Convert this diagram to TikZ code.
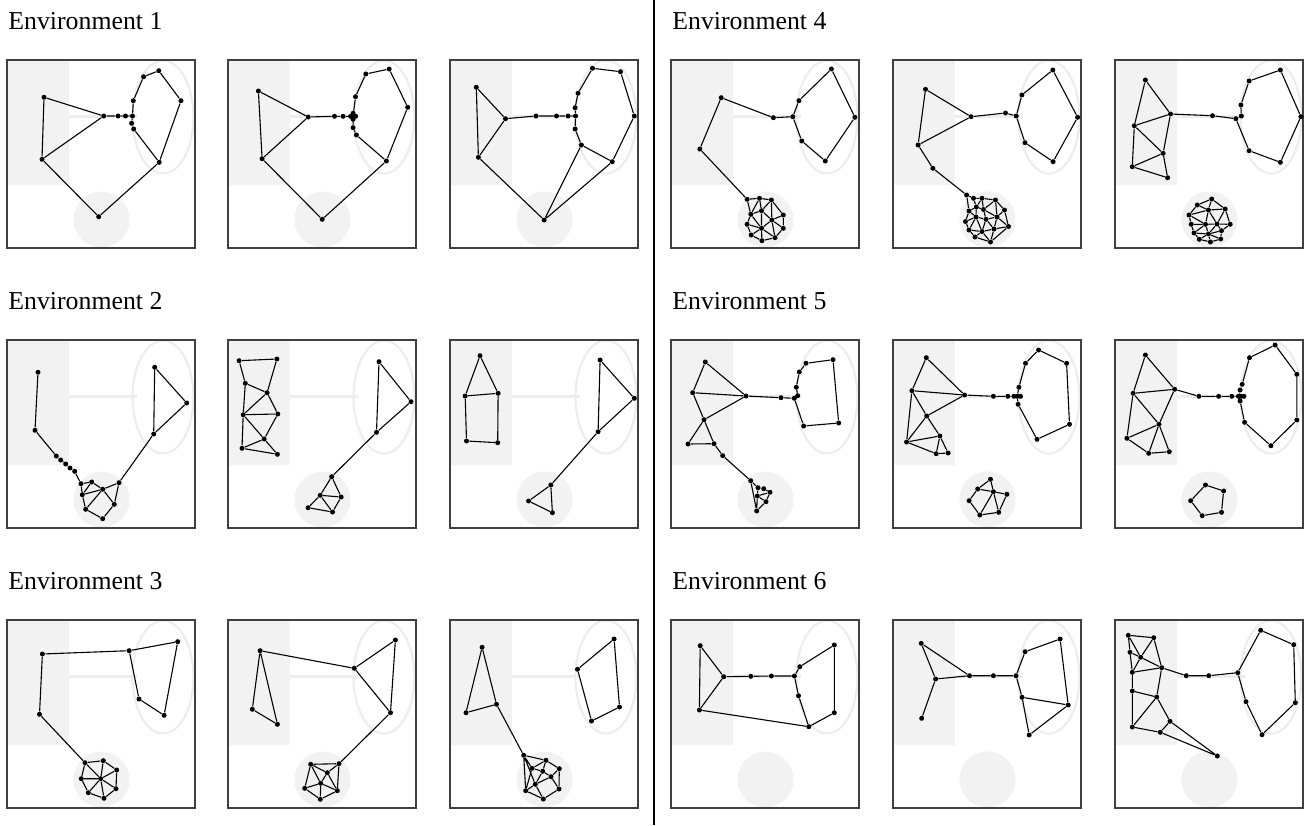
\documentclass[tikz,border=0pt]{standalone}
\usepackage{fontspec}
\setmainfont{Liberation Serif}
\usepackage{tikz}
\usetikzlibrary{calc}
\usetikzlibrary{positioning}

\tikzset{
  vtx/.style={circle,fill=black,inner sep=0pt,minimum size=2.5pt},
  link/.style={line width=0.55pt},
  floor/.style={fill=black!5},
  corridor/.style={draw=black!7,line width=1.2pt},
  zone/.style={draw=black!7,line width=1.1pt},
  frame/.style={draw=black!75,line width=0.6pt},
  envlabel/.style={anchor=base west,inner sep=0pt,font=\fontsize{12.9}{15}\selectfont},
  divider/.style={line width=1.4pt}
}

% empty room of one panel
\newcommand{\room}{%
  \fill[floor] (0,0) rectangle (62,125);
  \fill[floor] (94.5,159.5) ellipse [x radius=28, y radius=28];
  \draw[corridor] (62,56.5) -- (130,56.5);
  \draw[zone] (156,57) ellipse [x radius=30.5, y radius=56.5];
  \draw[frame] (0,0) rectangle (188,188);
}
% vertices: name/x/y
\newcommand{\vtxs}[1]{\foreach \n/\x/\y in {#1} {\node[vtx] (\n) at (\x,\y) {};}}

\begin{document}
\begin{tikzpicture}[x=0.5pt,y=-0.5pt]
  \useasboundingbox (0,0) rectangle (1307,825);
  \draw[divider] (654,0) -- (654,825);

  \node[envlabel] (env1) at (8,29.5) {Environment 1};
  \node[envlabel] (env2) at (8,309.5) {Environment 2};
  \node[envlabel] (env3) at (8,589.5) {Environment 3};
  \node[envlabel] (env4) at (672,29.5) {Environment 4};
  \node[envlabel] (env5) at (672,309.5) {Environment 5};
  \node[envlabel] (env6) at (672,589.5) {Environment 6};

  % Environment 1
  \begin{scope}[shift={(7,60)},name prefix=ea-]
    \room
    \vtxs{a/37/37.3, b/35/99.3, c/96.7/56, d/111.1/56, e/118.5/56, f/125.5/56, g/126.3/40.7, h/136.6/16.7, i/151.8/10.7, j/174/40.7, k/152.2/102.3, l/124.6/63.3, m/126.7/69, n/91.7/156.7}
    \draw[link] (a) -- (c) -- (b) -- (a) (b) -- (n) -- (k) -- (j) -- (i) -- (h) -- (g) -- (f) -- (e) -- (d) -- (c)
      (f) -- (l) -- (m) -- (k);
  \end{scope}
  \begin{scope}[shift={(228,60)},name prefix=eb-]
    \room
    \vtxs{a/30.4/31, b/34.1/98.7, c/80.2/57, d/106.5/56.3, e/115.1/56.3, f/125.1/56.3, f2/125.1/53.3, f3/125.1/59.3, f4/122.6/56.3, f5/127.6/56.3, g/127.5/36.7, h/137.8/14, i/161.2/9, j/179.7/47.3, k/158.4/101, l/125.1/67.7, m/128.4/75, n/94.2/159.3}
    \draw[link] (a) -- (c) -- (b) -- (a) (b) -- (n) -- (k) -- (j) -- (i) -- (h) -- (g) -- (f) -- (e) -- (d) -- (c)
      (f) -- (l) -- (m) -- (k);
  \end{scope}
  \begin{scope}[shift={(450,60)},name prefix=ec-]
    \room
    \vtxs{a/26.3/27.3, b/28.4/97.3, c/55.5/58.7, d/86/56, e/106.5/56, f/118.1/56, g/125.5/56, h/125.1/47.7, i/128/33.3, j/142.5/8.3, k/170.5/11.7, l/184.3/56, m/162.3/101.7, n/131.4/85, o/125.1/69, p/94.2/160}
    \draw[link] (a) -- (c) -- (b) -- (a) (b) -- (p) -- (m) -- (l) -- (k) -- (j) -- (i) -- (h) -- (g) -- (o) -- (n) -- (m)
      (n) -- (p) (c) -- (d) -- (e) -- (f) -- (g);
  \end{scope}

  % Environment 2
  \begin{scope}[shift={(7,340)},name prefix=fa-]
    \room
    \vtxs{a/31/32.3, b/28/90.3, c1/49.3/116, c2/53.7/120, c3/58.7/124, c4/63/128, c5/67.7/131.3, q1/74/143.7, q2/84.7/142, q3/95.7/149.3, q4/75.3/154.7, q5/78.7/169.3, q6/95.7/178.7, q7/107.3/164.3, q8/112/142.7, r1/146.7/94, r2/147.7/27.3, r3/179.7/63}
    \draw[link] (a) -- (b) -- (c1) -- (c2) -- (c3) -- (c4) -- (c5) -- (q1) -- (q2) -- (q3) -- (q7) -- (q8) -- (r1) -- (r2) -- (r3) -- (r1)
      (q1) -- (q4) -- (q5) -- (q6) -- (q7) (q2) -- (q4) -- (q3) -- (q5) (q3) -- (q8);
  \end{scope}
  \begin{scope}[shift={(228,340)},name prefix=fb-]
    \room
    \vtxs{L1/11.1/20.7, L2/48.9/19, L3/17.3/43.3, L4/39.1/52.7, L5/15.2/74.7, L6/49.8/74, L7/36.2/99, L8/14/108.3, L9/49.4/114.3, R1/151/21.7, R2/183/61.7, R3/148.5/92.3, C1/103.7/136.7, C2/92.2/155.3, C3/113.2/157, C4/80.1/167.7, C5/104.5/172}
    \draw[link] (L1) -- (L2) -- (L4) -- (L3) -- (L1) (L3) -- (L5) -- (L4) -- (L6) -- (L5) -- (L7) -- (L6)
      (L5) -- (L8) -- (L7) -- (L9) -- (L8) (R1) -- (R2) -- (R3) -- (R1)
      (R3) -- (C1) -- (C2) -- (C3) -- (C1) (C2) -- (C4) -- (C5) -- (C2) (C3) -- (C5);
  \end{scope}
  \begin{scope}[shift={(450,340)},name prefix=fc-]
    \room
    \vtxs{H1/30/15.7, H2/15.2/56, H3/48.1/53.3, H4/16.5/101, H5/47.7/102.7, R1/150.1/20, R2/184.3/58.3, R3/148.1/91.7, T1/100.8/145, T2/78.6/161, T3/102.4/172.7}
    \draw[link] (H1) -- (H2) -- (H3) -- (H1) (H2) -- (H4) -- (H5) -- (H3) (R1) -- (R2) -- (R3) -- (R1)
      (R3) -- (T1) -- (T2) -- (T3) -- (T1);
  \end{scope}

  % Environment 3
  \begin{scope}[shift={(7,620)},name prefix=ga-]
    \room
    \vtxs{a/35.4/34, b/32.5/94.3, c/122.2/30.7, d/170.7/21.7, e/132/79, f/157.1/95.3, q1/78/142.7, q2/96.3/140.7, q3/109.7/150, q4/74.3/158.7, q5/93.7/158.7, q6/109/168.7, q7/81.3/172.7, q8/97/178.3}
    \draw[link] (b) -- (a) -- (c) -- (d) -- (f) -- (e) -- (c)
      (b) -- (q1) -- (q2) -- (q3) -- (q6) -- (q8) -- (q7) -- (q4) -- (q1)
      (q5) -- (q1) (q5) -- (q2) (q5) -- (q3) (q5) -- (q4) (q5) -- (q6) (q5) -- (q7) (q5) -- (q8);
  \end{scope}
  \begin{scope}[shift={(228,620)},name prefix=gb-]
    \room
    \vtxs{a/32.1/30.7, b/24.3/89.3, c/49.4/104.3, d/126.3/48.3, e/167.4/20, f/162.5/92.7, p1/82.7/144.3, p2/111/143.7, p3/99.3/152.7, p4/92.7/163.3, p5/76.7/168.3, p6/109.3/170.7, p7/92.3/179.3}
    \draw[link] (c) -- (a) -- (b) -- (c) (a) -- (d) -- (e) -- (f) -- (d)
      (f) -- (p2) -- (p1) -- (p3) -- (p2) -- (p6) -- (p3) -- (p4) -- (p1) -- (p5) -- (p4) -- (p6) -- (p7) -- (p5) (p4) -- (p7);
  \end{scope}
  \begin{scope}[shift={(450,620)},name prefix=gc-]
    \room
    \vtxs{a/32.1/27.3, b/16/92.7, c/46.5/84.3, d/164.1/19, e/127.5/49.3, f/141.5/101, g/169.5/87, s1/73.7/135.3, s2/96/140.3, s3/82/148.3, s4/92.7/151.3, s5/109.3/148.7, s6/101/156.7, s7/85.3/164.3, s8/75.7/170.7, s9/109/169, s10/93.3/179}
    \draw[link] (c) -- (a) -- (b) -- (c) -- (s1) (d) -- (e) -- (f) -- (g) -- (d)
      (s1) -- (s2) -- (s5) -- (s9) -- (s10) -- (s8) -- (s1) -- (s3) -- (s2) -- (s4) -- (s3) -- (s8) -- (s7) -- (s1)
      (s4) -- (s6) -- (s5) (s4) -- (s7) -- (s6) -- (s9) (s7) -- (s10);
  \end{scope}

  % Environment 4
  \begin{scope}[shift={(671,60)},name prefix=ha-]
    \room
    \vtxs{a/50.2/37.7, b/28.8/89, c/102.4/57.7, d/121.8/56.7, e/127.9/40.7, f/160.4/9, g/183.9/57.3, h/154.3/101, i/130.8/81,
      k1/76.1/139.3, k2/88.5/138.3, k3/100.4/140, k4/79.8/154.3, k5/90.5/150.7, k6/100.8/160, k7/112.3/155, k8/76.1/164.3, k9/90.5/168.3, k10/112.3/168.3, k11/80.2/175, k12/90.9/180.7, k13/104/177.7}
    \draw[link] (b) -- (a) -- (c) -- (d) -- (e) -- (f) -- (g) -- (h) -- (i) -- (d) (b) -- (k1)
      (k1) -- (k2) -- (k3) -- (k7) -- (k10) -- (k13) -- (k12) -- (k11) -- (k8) -- (k4) -- (k1)
      (k2) -- (k5) -- (k3) (k2) -- (k4) -- (k5) -- (k6) -- (k3) (k6) -- (k7) (k5) -- (k9) -- (k4)
      (k6) -- (k9) (k6) -- (k10) (k8) -- (k9) -- (k11) (k9) -- (k12) (k9) -- (k13) (k6) -- (k13);
  \end{scope}
  \begin{scope}[shift={(893,60)},name prefix=hb-]
    \room
    \vtxs{a/32.5/29.3, b/25.1/85, c/78.1/56.7, d/112.5/53, e/123.2/56, f/128.9/35, g/159.8/10, h/184.6/57.3, i/160.1/101.7, j/132/82.7, k/39.9/108.3,
      m1/73.6/135, m2/80.5/138.3, m3/89/138.3, m4/102.5/140, m5/83.3/147, m6/90.5/149.5, m7/76/151, m8/111.5/150, m9/83/157, m10/93/159.3, m11/104/157, m12/72.5/161.5, m13/115.5/166.5, m14/76/170, m15/89/171.5, m16/101/169, m17/82/177, m18/97.5/182}
    \draw[link] (a) -- (b) -- (c) -- (a) (c) -- (d) -- (e) -- (f) -- (g) -- (h) -- (i) -- (j) -- (e) (b) -- (k) -- (m1)
      (m1) -- (m2) -- (m3) -- (m4) -- (m8) -- (m13) -- (m18) -- (m17) -- (m14) -- (m12) -- (m7) -- (m1)
      (m2) -- (m5) -- (m3) -- (m6) -- (m4) -- (m11) -- (m8) (m5) -- (m6) (m5) -- (m7) -- (m9) -- (m5)
      (m9) -- (m12) (m9) -- (m14) (m9) -- (m10) -- (m6) -- (m11) -- (m10) (m11) -- (m13) (m11) -- (m16) -- (m13)
      (m10) -- (m16) (m10) -- (m15) -- (m9) (m14) -- (m15) -- (m17) (m15) -- (m18) -- (m16) -- (m15);
  \end{scope}
  \begin{scope}[shift={(1115,60)},name prefix=hc-]
    \room
    \vtxs{a/30.4/20, b/19.3/65.7, c/55.5/54, d/48.1/93.3, e/17.3/106.7, f/52.6/117.7, g/97.5/55.7, h/120.9/58.7, i/126.3/56, j/125.9/45, k/134.1/21, l/165.4/10, m/185.9/56.7, n/165.4/102.3, o/134.1/90.7,
      P1/82.3/145, P2/96.7/139, P3/110.2/149, P4/74/155, P5/93.4/150, P6/76.2/164.3, P7/90.5/164.3, P8/102/164, P9/115.2/164.3, P10/79/173, P11/93.4/174, P12/106.5/170.7, P13/84.3/179.3, P14/95.4/182, P15/105.7/179}
    \draw[link] (a) -- (b) -- (c) -- (a) (b) -- (d) -- (c) (b) -- (e) -- (d) -- (f) -- (e)
      (c) -- (g) -- (h) -- (i) -- (j) -- (k) -- (l) -- (m) -- (n) -- (o) -- (h)
      (P1) -- (P2) -- (P3) -- (P9) -- (P12) -- (P15) -- (P14) -- (P13) -- (P10) -- (P6) -- (P4) -- (P1)
      (P1) -- (P5) -- (P2) (P3) -- (P5) -- (P4) -- (P7) -- (P5) -- (P8) -- (P3) (P6) -- (P7) -- (P8) -- (P9)
      (P8) -- (P12) (P7) -- (P10) -- (P11) -- (P7) (P8) -- (P11) -- (P12) (P11) -- (P13) (P11) -- (P14) (P11) -- (P15);
  \end{scope}

  % Environment 5
  \begin{scope}[shift={(671,340)},name prefix=ia-]
    \room
    \vtxs{a/34.3/22, b/21.7/52.7, c/75/56, d/33/79.7, e/17/104, f/43/103.7, g/51.7/115.7, h/79.7/140.7, i/110/57.7, j/123.3/58.3, k/126.7/55.7, l/125.3/47.3, m/128.3/32, n/135/23.3, o/162/19.7, p/167.7/83, q/132.7/86,
      r1/87/147.7, r2/92.7/148.7, r3/99/152.3, r4/86.3/156, r5/95/161.7, r6/85.7/171}
    \draw[link] (a) -- (b) -- (c) -- (a) (b) -- (d) -- (c) (d) -- (e) -- (f) -- (d) (f) -- (g) -- (h)
      (h) -- (r1) -- (r2) -- (r3) -- (r5) -- (r6) -- (h) (r1) -- (r4) -- (r3) (r4) -- (r5) (r4) -- (r6)
      (c) -- (i) -- (j) -- (k) -- (l) -- (m) -- (n) -- (o) -- (p) -- (q) -- (j);
  \end{scope}
  \begin{scope}[shift={(893,340)},name prefix=ib-]
    \room
    \vtxs{a/33.3/17.7, b/18.9/50.7, c/71.6/55, d/33.7/76, e/13.6/102, f/46.9/96, g/43.2/113.7, h/55.1/113, i/100.4/56.3, j/114.8/56.3, k/120.9/56.3, l/124.2/56.3, m/127.5/56.3, n/125.9/47.3, o/132.5/23.3, p/145.6/10, q/173.6/23.3, r/176.5/84.3, s/144/99.3, t/125.1/64.3,
      C1/97.5/139.3, C2/84.7/149, C3/100.4/151.7, C4/113.9/154.3, C5/76.1/160.7, C6/86.8/175, C7/105.7/172.3}
    \draw[link] (a) -- (b) -- (c) -- (a) (c) -- (d) -- (b) -- (e) -- (d) -- (f) -- (e) -- (g) -- (f) -- (h) -- (g)
      (c) -- (i) -- (j) -- (k) -- (l) -- (m) (l) -- (n) -- (o) -- (p) -- (q) -- (r) -- (s) -- (t) -- (l)
      (C1) -- (C2) -- (C3) -- (C1) (C3) -- (C4) -- (C7) -- (C3) -- (C6) -- (C7) (C2) -- (C5) -- (C6);
  \end{scope}
  \begin{scope}[shift={(1115,340)},name prefix=ic-]
    \room
    \vtxs{a/30.4/15, b/18.1/53.3, c/59.6/49.3, d/44/84.3, e/11.9/98.3, f/33.7/113.3, g/54.3/111.7, h/83.9/56.3, i/103.6/56.3, j/116.8/56.3, k/123.4/56.3, k2/126.3/56.3, k3/129/56.3, l/125.1/50, m/127.2/44.3, n/134.5/17.7, o/160.1/5, p/181.8/34.3, q/181.8/80, r/155.9/105.7, s/129.6/82.3, t/125.1/61,
      Q1/90.5/145, Q2/108.6/151, Q3/75.7/160.7, Q4/106.5/172.3, Q5/87.2/175.7}
    \draw[link] (a) -- (b) -- (c) -- (a) (c) -- (d) -- (b) -- (e) -- (d) -- (f) -- (e) (d) -- (g) -- (f)
      (c) -- (h) -- (i) -- (j) -- (k) -- (k2) -- (k3) (k) -- (l) -- (m) -- (n) -- (o) -- (p) -- (q) -- (r) -- (s) -- (t) -- (k)
      (Q1) -- (Q2) -- (Q4) -- (Q5) -- (Q3) -- (Q1);
  \end{scope}

  % Environment 6
  \begin{scope}[shift={(671,620)},name prefix=ja-]
    \room
    \vtxs{a/29.2/25.7, b/52.7/56.7, c/28.4/90, d/79.8/56.3, e/100.4/56, f/123.4/56, g/128.8/46.7, h/163.3/25, i/163.3/92.7, j/137.8/106.7, k/127.5/75.7}
    \draw[link] (a) -- (b) -- (c) -- (a) (b) -- (d) -- (e) -- (f) -- (g) -- (h) -- (i) -- (j) -- (k) -- (f) (c) -- (j);
  \end{scope}
  \begin{scope}[shift={(893,620)},name prefix=jb-]
    \room
    \vtxs{a/28.2/23.3, b/42.6/59, c/28.7/98.3, d/76.5/55.7, e/100.4/55.7, f/123/55.7, g/132.1/31.7, h/167.1/19, i/175.2/85, j/129.1/77.3, k/136.2/115}
    \draw[link] (a) -- (b) -- (d) -- (a) (b) -- (c) (d) -- (e) -- (f) -- (g) -- (h) -- (i) -- (j) -- (f) (i) -- (k) -- (j);
  \end{scope}
  \begin{scope}[shift={(1115,620)},name prefix=jc-]
    \room
    \vtxs{a/13.3/15.3, b/38.7/17.7, c/15/32.3, d/25.7/37.3, e/17.3/52.3, f/46.7/47.7, g/17.3/71, h/41.7/77, i/17.3/107, j/45.3/112.3, k/55/101.3, l/102.3/136, m/71.3/55.7, n/93.7/55.7, o/122.7/52.7, p/145.7/10.3, q/178.7/24.7, r/180.3/82.7, s/147/114.7, t/131/81.7}
    \draw[link] (a) -- (b) -- (d) -- (a) -- (c) -- (e) (b) -- (f) -- (d) -- (c) (d) -- (e) -- (f)
      (e) -- (g) -- (h) -- (f) (g) -- (i) -- (h) -- (k) -- (l) -- (j) -- (i) (j) -- (k)
      (f) -- (m) -- (n) -- (o) -- (p) -- (q) -- (r) -- (s) -- (t) -- (o);
  \end{scope}
\end{tikzpicture}
\end{document}
